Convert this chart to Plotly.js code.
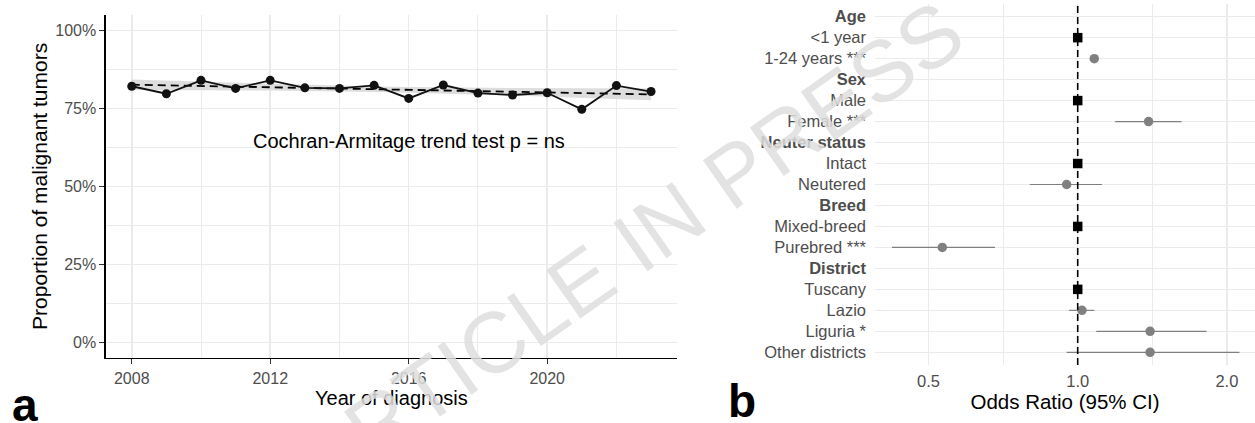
<!DOCTYPE html>
<html>
<head>
<meta charset="utf-8">
<script src="https://cdn.plot.ly/plotly-3.0.1.min.js"></script>
<style>
  html, body { margin: 0; padding: 0; background: #ffffff; }
  #chart { width: 1255px; height: 423px; }
</style>
</head>
<body>
<div id="chart"></div>
<script>
// ---------- Panel a: proportion of malignant tumors by year ----------
const years = [2008, 2009, 2010, 2011, 2012, 2013, 2014, 2015, 2016, 2017, 2018, 2019, 2020, 2021, 2022, 2023];
const propMalignant = [82.1, 79.7, 84.0, 81.4, 84.0, 81.6, 81.4, 82.4, 78.2, 82.5, 79.9, 79.3, 80.0, 74.7, 82.3, 80.4];
const trendYears = [2008, 2023];
const trendValues = [82.6, 79.5];
const bandYears = [2008, 2012, 2015.5, 2019, 2023];
const bandUpper = [84.3, 82.9, 81.95, 81.5, 81.4];
const bandLower = [80.9, 80.7, 80.15, 79.1, 77.6];
const yearTicks = [2008, 2012, 2016, 2020];
const yearMinor = [2010, 2014, 2018, 2022];
const pctTicks = [0, 25, 50, 75, 100];
const pctTickText = ['0%', '25%', '50%', '75%', '100%'];
const pctMinor = [12.5, 37.5, 62.5, 87.5];
const trendText = 'Cochran-Armitage trend test p = ns';

// ---------- Panel b: forest plot ----------
const rowLabels = ['Age', '<1 year', '1-24 years ***', 'Sex', 'Male', 'Female ***', 'Neuter status',
  'Intact', 'Neutered', 'Breed', 'Mixed-breed', 'Purebred ***', 'District', 'Tuscany', 'Lazio',
  'Liguria *', 'Other districts'];
const headerLabels = ['Age', 'Sex', 'Neuter status', 'Breed', 'District'];
const refLevels = ['<1 year', 'Male', 'Intact', 'Mixed-breed', 'Tuscany'];
const refOR = 1.0;
const compLevels = ['1-24 years ***', 'Female ***', 'Neutered', 'Purebred ***', 'Lazio', 'Liguria *', 'Other districts'];
const orValues = [1.08, 1.39, 0.95, 0.533, 1.02, 1.40, 1.40];
const ciLow = [1.06, 1.19, 0.80, 0.422, 0.96, 1.09, 0.95];
const ciHigh = [1.10, 1.62, 1.12, 0.681, 1.08, 1.82, 2.12];
const orTicks = [0.5, 1, 2];
const orTickText = ['0.5', '1.0', '2.0'];
const orMinor = [Math.SQRT1_2, Math.SQRT2];

const FONT = 'Liberation Sans, Arial, Helvetica, sans-serif';
const GRID = '#ebebeb';
const TICKCOL = '#4d4d4d';

const rowIndex = l => rowLabels.indexOf(l);

// CI segments
const ciX = [], ciY = [];
compLevels.forEach((l, i) => { ciX.push(ciLow[i], ciHigh[i], null); ciY.push(rowIndex(l), rowIndex(l), null); });

const traces = [
  { // confidence band of trend
    x: bandYears.concat(bandYears.slice().reverse()),
    y: bandUpper.concat(bandLower.slice().reverse()),
    type: 'scatter', mode: 'lines', fill: 'toself', fillcolor: '#dddddd',
    line: { width: 0 }, hoverinfo: 'skip', xaxis: 'x', yaxis: 'y'
  },
  { // linear trend
    x: trendYears, y: trendValues, type: 'scatter', mode: 'lines',
    line: { color: '#000000', width: 1.8, dash: '8px,5px' }, xaxis: 'x', yaxis: 'y'
  },
  { // observed proportions
    x: years, y: propMalignant, type: 'scatter', mode: 'lines+markers',
    line: { color: '#111111', width: 1.8 },
    marker: { color: '#111111', size: 9 }, xaxis: 'x', yaxis: 'y'
  },
  { // CIs
    x: ciX, y: ciY, type: 'scatter', mode: 'lines',
    line: { color: '#808080', width: 1.2 }, xaxis: 'x2', yaxis: 'y2', connectgaps: false
  },
  { // comparison ORs
    x: orValues, y: compLevels.map(rowIndex), type: 'scatter', mode: 'markers',
    marker: { color: '#808080', size: 9.5, symbol: 'circle' }, xaxis: 'x2', yaxis: 'y2'
  },
  { // reference levels
    x: refLevels.map(() => refOR), y: refLevels.map(rowIndex), type: 'scatter', mode: 'markers',
    marker: { color: '#000000', size: 9.5, symbol: 'square' }, xaxis: 'x2', yaxis: 'y2'
  }
];

const W = 1255, H = 423;
const px = v => v / W;
const py = v => (H - v) / H;

const layout = {
  width: W, height: H,
  margin: { l: 0, r: 0, t: 0, b: 0 },
  paper_bgcolor: '#ffffff', plot_bgcolor: '#ffffff',
  showlegend: false,
  font: { family: FONT, color: '#000000' },
  xaxis: {
    domain: [px(105.8), px(677)], range: [2007.25, 2023.75],
    tickvals: yearTicks, ticks: 'outside', ticklen: 5, tickcolor: '#333333', tickwidth: 1.2,
    tickfont: { size: 16, color: TICKCOL, family: FONT },
    showline: true, linecolor: '#000000', linewidth: 1.4,
    showgrid: true, gridcolor: GRID, gridwidth: 1.5, zeroline: false,
    minor: { tickvals: yearMinor, showgrid: true, gridcolor: GRID, gridwidth: 1, ticks: '' },
    title: { text: 'Year of diagnosis', font: { size: 20, color: '#000000', family: FONT }, standoff: 2 },
    anchor: 'y', automargin: false
  },
  yaxis: {
    domain: [py(358), py(14.8)], range: [-5, 105],
    tickvals: pctTicks, ticktext: pctTickText, ticks: 'outside', ticklen: 5, tickcolor: '#333333', tickwidth: 1.2,
    tickfont: { size: 16, color: TICKCOL, family: FONT },
    showline: true, linecolor: '#000000', linewidth: 1.4,
    showgrid: true, gridcolor: GRID, gridwidth: 1.5, zeroline: false,
    minor: { tickvals: pctMinor, showgrid: true, gridcolor: GRID, gridwidth: 1, ticks: '' },
    title: { text: 'Proportion of malignant tumors', font: { size: 21, color: '#000000', family: FONT }, standoff: 2 },
    anchor: 'x', automargin: false
  },
  xaxis2: {
    type: 'log', domain: [px(875), 1], range: [-0.4091, 0.3578],
    tickvals: orTicks, ticktext: orTickText, ticks: '', ticklabelstandoff: 5,
    tickfont: { size: 16.5, color: TICKCOL, family: FONT },
    showline: false, showgrid: true, gridcolor: GRID, gridwidth: 1.5, zeroline: false,
    minor: { tickvals: orMinor, showgrid: true, gridcolor: GRID, gridwidth: 1, ticks: '' },
    title: { text: 'Odds Ratio (95% CI)', font: { size: 20.5, color: '#000000', family: FONT }, standoff: 0 },
    anchor: 'y2', automargin: false
  },
  yaxis2: {
    domain: [py(364.9), py(4.1)], range: [rowLabels.length - 0.4, -0.6],
    tickvals: rowLabels.map((l, i) => i),
    ticktext: rowLabels.map(l => headerLabels.includes(l) ? '<b>' + l + '</b>' : l),
    ticks: '', ticklabelstandoff: 8,
    tickfont: { size: 16.5, color: TICKCOL, family: FONT },
    showline: false, showgrid: true, gridcolor: GRID, gridwidth: 1.5, zeroline: false,
    anchor: 'x2', automargin: false
  },
  shapes: [
    { type: 'line', xref: 'x2', yref: 'y2 domain', x0: refOR, x1: refOR, y0: 0, y1: 1,
      line: { color: '#000000', width: 1.6, dash: '7px,4px' }, layer: 'above' }
  ],
  annotations: [
    { text: trendText, xref: 'x', yref: 'y', x: 2016, y: 64.7, showarrow: false,
      font: { size: 20, color: '#000000', family: FONT }, xanchor: 'center', yanchor: 'middle' },
    { text: '<b>a</b>', xref: 'paper', yref: 'paper', x: px(10), y: py(405), showarrow: false,
      font: { size: 46, color: '#000000', family: FONT }, xanchor: 'left', yanchor: 'middle' },
    { text: '<b>b</b>', xref: 'paper', yref: 'paper', x: px(726), y: py(401), showarrow: false,
      font: { size: 46, color: '#000000', family: FONT }, xanchor: 'left', yanchor: 'middle' },
    { text: 'ARTICLE IN PRESS', xref: 'paper', yref: 'paper', x: px(630), y: py(247), showarrow: false,
      textangle: -35, font: { size: 86, color: 'rgba(222,222,222,0.85)', family: FONT },
      xanchor: 'center', yanchor: 'middle' }
  ]
};

Plotly.newPlot('chart', traces, layout, { displayModeBar: false, staticPlot: true });
</script>
</body>
</html>
